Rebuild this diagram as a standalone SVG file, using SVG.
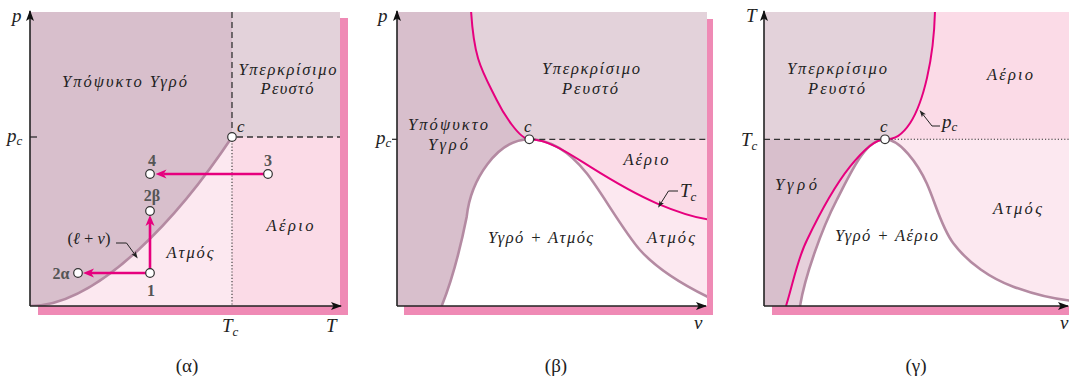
<svg xmlns="http://www.w3.org/2000/svg" width="1069" height="378" viewBox="0 0 1069 378">
<style>
.lab{font-family:"Liberation Serif","DejaVu Serif",serif;font-style:italic;font-size:16.5px;fill:#222;text-anchor:middle}
.ax{font-family:"Liberation Serif","DejaVu Serif",serif;font-style:italic;font-size:19px;fill:#222}
.sub{font-size:13px}
.cap{font-family:"Liberation Serif","DejaVu Serif",serif;font-size:19px;fill:#222;text-anchor:middle}
.num{font-family:"Liberation Serif","DejaVu Serif",serif;font-weight:bold;font-size:16px;fill:#555;text-anchor:middle}
.shadow{fill:#ef8ab5}
.liq{fill:#d8bfcc}
.sup{fill:#e3d2da}
.gas{fill:#fbdbe7}
.vap{fill:#fce8f0}
.dome{fill:none;stroke:#b48aa2;stroke-width:2.6}
.iso{fill:none;stroke:#e6007e;stroke-width:2}
.axis{fill:none;stroke:#222;stroke-width:1.6;marker-end:url(#axh)}
.dash{fill:none;stroke:#333;stroke-width:1.3;stroke-dasharray:6 4}
.dot{fill:none;stroke:#333;stroke-width:1.1;stroke-dasharray:1.2 2}
.proc{fill:none;stroke:#e6007e;stroke-width:2.6;marker-end:url(#ph)}
.lead{fill:none;stroke:#222;stroke-width:1;marker-end:url(#lh)}
.pt{fill:#fff;stroke:#333;stroke-width:1.2}
</style>
<defs>
<marker id="axh" markerUnits="userSpaceOnUse" markerWidth="12" markerHeight="9" refX="10" refY="4" orient="auto" overflow="visible"><path d="M0,0 L11,4 L0,8 L2.5,4 Z" fill="#111"/></marker>
<marker id="ph" markerUnits="userSpaceOnUse" markerWidth="12" markerHeight="10" refX="3" refY="4.5" orient="auto" overflow="visible"><path d="M0,0 L11,4.5 L0,9 L3,4.5 Z" fill="#e6007e"/></marker>
<marker id="lh" markerUnits="userSpaceOnUse" markerWidth="8" markerHeight="6" refX="1.5" refY="2.5" orient="auto" overflow="visible"><path d="M0,0 L7,2.5 L0,5 L1.5,2.5 Z" fill="#222"/></marker>
<clipPath id="cA"><rect x="30" y="12" width="310" height="294"/></clipPath>
<clipPath id="cB"><rect x="397" y="12" width="310" height="294"/></clipPath>
<clipPath id="cG"><rect x="764" y="12" width="310" height="294"/></clipPath>
</defs>
<rect width="1069" height="378" fill="#fff"/>

<!-- Panel alpha -->
<g id="panel-a">
<rect class="shadow" x="38" y="18" width="310" height="297"/>
<g clip-path="url(#cA)">
<rect class="sup" x="232" y="12" width="108" height="125"/>
<rect class="gas" x="232" y="137" width="108" height="169"/>
<path class="vap" d="M30,306 C100,306 182,212.3 232,137 V306 Z"/>
<path class="liq" d="M30,12 H232 V137 C182,212.3 100,306 30,306 Z"/>
<path class="dome" d="M30,306 C100,306 182,212.3 232,137"/>
</g>
<path class="dash" d="M232,12 V137 H340"/>
<path class="dot" d="M232,137 V306"/>
<path fill="none" stroke="#222" stroke-width="1.2" d="M30,137 H37"/>
<path class="axis" d="M30,306 V11"/>
<path class="axis" d="M30,306 H341"/>
<text class="ax" x="12" y="22">p</text>
<text class="ax" x="7" y="142">p<tspan class="sub" dy="3">c</tspan></text>
<text class="ax" x="222" y="332">T<tspan class="sub" dy="4">c</tspan></text>
<text class="ax" x="326" y="332">T</text>
<text class="ax" x="237" y="132" style="font-size:17px">c</text>
<text class="lab" x="124.5" y="86.5" textLength="125" lengthAdjust="spacing">Υπόψυκτο Υγρό</text>
<text class="lab" x="287.5" y="75" textLength="98" lengthAdjust="spacing">Υπερκρίσιμο</text>
<text class="lab" x="287" y="94" textLength="53" lengthAdjust="spacing">Ρευστό</text>
<text class="lab" x="290" y="230.5" textLength="47" lengthAdjust="spacing">Αέριο</text>
<text class="lab" x="190" y="257.5" textLength="47" lengthAdjust="spacing">Ατμός</text>
<text class="lab" x="89" y="244" style="font-style:normal">(<tspan font-style="italic">ℓ</tspan> + <tspan font-style="italic">v</tspan>)</text>
<text class="cap" x="187" y="372">(α)</text>
</g>

<!-- Panel beta -->
<g id="panel-b">
<rect class="shadow" x="404" y="19" width="309" height="296"/>
<g clip-path="url(#cB)">
<rect class="sup" x="397" y="12" width="310" height="294"/>
<rect class="gas" x="529.3" y="139.3" width="180" height="170"/>
<path class="vap" d="M529.3,139.3 C549,139.3 570,154.2 590,166.7 C612,180.5 634.7,194 656.7,203.3 C673.5,210.4 690,217 709,219.5 V306 H529.3 Z"/>
<path fill="#fff" d="M441.7,306 C453.7,276 460.7,246.7 466.7,216.7 C470.7,180 497,139.3 529.3,139.3 C555,139.3 574.7,158.3 586.7,173.3 C600.7,190.8 624,232 640,250 C658,270 684.7,285.7 709,297.5 V306 Z"/>
<path class="liq" d="M397,12 H471 C474,60 481.7,70 496.7,100 C503,113 519.5,139.3 529.3,139.3 C497,139.3 470.7,180 466.7,216.7 C460.7,246.7 453.7,276 441.7,306 H397 Z"/>
<path class="dome" d="M441.7,306 C453.7,276 460.7,246.7 466.7,216.7 C470.7,180 497,139.3 529.3,139.3 C555,139.3 574.7,158.3 586.7,173.3 C600.7,190.8 624,232 640,250 C658,270 684.7,285.7 709,297.5"/>
<path class="iso" d="M471,10 C474,60 481.7,70 496.7,100 C503,113 519.5,139.3 529.3,139.3 C549,139.3 570,154.2 590,166.7 C612,180.5 634.7,194 656.7,203.3 C673.5,210.4 690,217 709,219.5"/>
</g>
<path class="dash" d="M529.3,139.3 H707"/>
<path fill="none" stroke="#222" stroke-width="1.2" d="M392,139.3 H397"/>
<path class="axis" d="M397,306 V11"/>
<path class="axis" d="M397,306 H706"/>
<path class="lead" d="M678,191 H668.5 L661,203"/>
<text class="ax" x="378" y="22">p</text>
<text class="ax" x="376" y="144">p<tspan class="sub" dy="3">c</tspan></text>
<text class="ax" x="694" y="329">v</text>
<text class="ax" x="524" y="132" style="font-size:17px">c</text>
<text class="ax" x="680" y="197">T<tspan class="sub" dy="4">c</tspan></text>
<text class="lab" x="591" y="74" textLength="98" lengthAdjust="spacing">Υπερκρίσιμο</text>
<text class="lab" x="590" y="94" textLength="56" lengthAdjust="spacing">Ρευστό</text>
<text class="lab" x="448" y="130" textLength="80" lengthAdjust="spacing">Υπόψυκτο</text>
<text class="lab" x="448" y="150" textLength="40" lengthAdjust="spacing">Υγρό</text>
<text class="lab" x="646" y="165" textLength="45" lengthAdjust="spacing">Αέριο</text>
<text class="lab" x="540.5" y="243" textLength="105" lengthAdjust="spacing">Υγρό + Ατμός</text>
<text class="lab" x="671" y="243" textLength="48" lengthAdjust="spacing">Ατμός</text>
<text class="cap" x="556" y="372">(β)</text>
</g>

<!-- Panel gamma -->
<g id="panel-g">
<rect class="shadow" x="772" y="19" width="310" height="296"/>
<g clip-path="url(#cG)">
<rect class="vap" x="764" y="12" width="310" height="294"/>
<rect class="gas" x="764" y="12" width="310" height="127.3"/>
<path class="sup" d="M764,12 H935 C934,60 923,103.3 910,123.3 C902,135.3 895,139.3 885,139.3 H764 Z"/>
<path class="liq" d="M764,139.3 H885 C875,139.3 862,151.7 850,166.7 C834,186.7 819,215 807,240 C797,260 793,284 786,306 H764 Z"/>
<path fill="#e6d0db" d="M885,139.3 C875,139.3 862,151.7 850,166.7 C834,186.7 819,215 807,240 C797,260 793,284 786,306 H800 C805,276 821.7,229 836.7,200 C850.7,173 865,139.3 885,139.3 Z"/>
<path fill="#fff" d="M800,306 C805,276 821.7,229 836.7,200 C850.7,173 865,139.3 885,139.3 C900,139.3 917.7,163.3 926.7,183.3 C935.7,203.3 941.3,227.3 953.3,243.3 C968.3,263.3 991.3,278.7 1013.3,286.7 C1035,294.7 1055,299.5 1075,301 V306 Z"/>
<path class="dome" d="M800,306 C805,276 821.7,229 836.7,200 C850.7,173 865,139.3 885,139.3 C900,139.3 917.7,163.3 926.7,183.3 C935.7,203.3 941.3,227.3 953.3,243.3 C968.3,263.3 991.3,278.7 1013.3,286.7 C1035,294.7 1055,299.5 1075,301"/>
<path class="iso" d="M935,10 C934,60 923,103.3 910,123.3 C902,135.3 895,139.3 885,139.3 C875,139.3 862,151.7 850,166.7 C834,186.7 819,215 807,240 C797,260 793,284 786,306"/>
</g>
<path class="dash" d="M764,139.3 H885"/>
<path class="dot" d="M885,139.3 H1069"/>
<path class="axis" d="M764,306 V11"/>
<path class="axis" d="M764,306 H1068"/>
<path class="lead" d="M940,126 H932 L923,114.5"/>
<text class="ax" x="746" y="22">T</text>
<text class="ax" x="741" y="146">T<tspan class="sub" dy="4">c</tspan></text>
<text class="ax" x="1060" y="329">v</text>
<text class="ax" x="880" y="132" style="font-size:17px">c</text>
<text class="ax" x="942" y="128">p<tspan class="sub" dy="3">c</tspan></text>
<text class="lab" x="837" y="74" textLength="100" lengthAdjust="spacing">Υπερκρίσιμο</text>
<text class="lab" x="836.5" y="94" textLength="57" lengthAdjust="spacing">Ρευστό</text>
<text class="lab" x="1010" y="80" textLength="46" lengthAdjust="spacing">Αέριο</text>
<text class="lab" x="796" y="190" textLength="42" lengthAdjust="spacing">Υγρό</text>
<text class="lab" x="1017.5" y="214" textLength="49" lengthAdjust="spacing">Ατμός</text>
<text class="lab" x="886.5" y="241" textLength="103" lengthAdjust="spacing">Υγρό + Αέριο</text>
<text class="cap" x="916" y="372">(γ)</text>
</g>

<!-- Connectors: process paths and leaders -->
<g id="connectors">
<path class="proc" d="M268,174 H163.5"/>
<path class="proc" d="M150,273 V223"/>
<path class="proc" d="M150,273 H91"/>
<path class="lead" d="M116,243 H126.5 L134.5,254"/>
</g>

<!-- State points -->
<g id="point-c-a"><circle class="pt" cx="232" cy="137" r="4.3"/></g>
<g id="point-c-b"><circle class="pt" cx="529.3" cy="139.3" r="4.3"/></g>
<g id="point-c-g"><circle class="pt" cx="885" cy="139.3" r="4.3"/></g>
<g id="point-1"><circle class="pt" cx="150" cy="273" r="4.3"/><text class="num" x="151" y="296">1</text></g>
<g id="point-2a"><circle class="pt" cx="78" cy="273" r="4.3"/><text class="num" x="61" y="278.5">2α</text></g>
<g id="point-2b"><circle class="pt" cx="150" cy="211" r="4.3"/><text class="num" x="152" y="201">2β</text></g>
<g id="point-3"><circle class="pt" cx="268" cy="174" r="4.3"/><text class="num" x="268" y="166">3</text></g>
<g id="point-4"><circle class="pt" cx="150" cy="174" r="4.3"/><text class="num" x="152" y="166">4</text></g>
</svg>
